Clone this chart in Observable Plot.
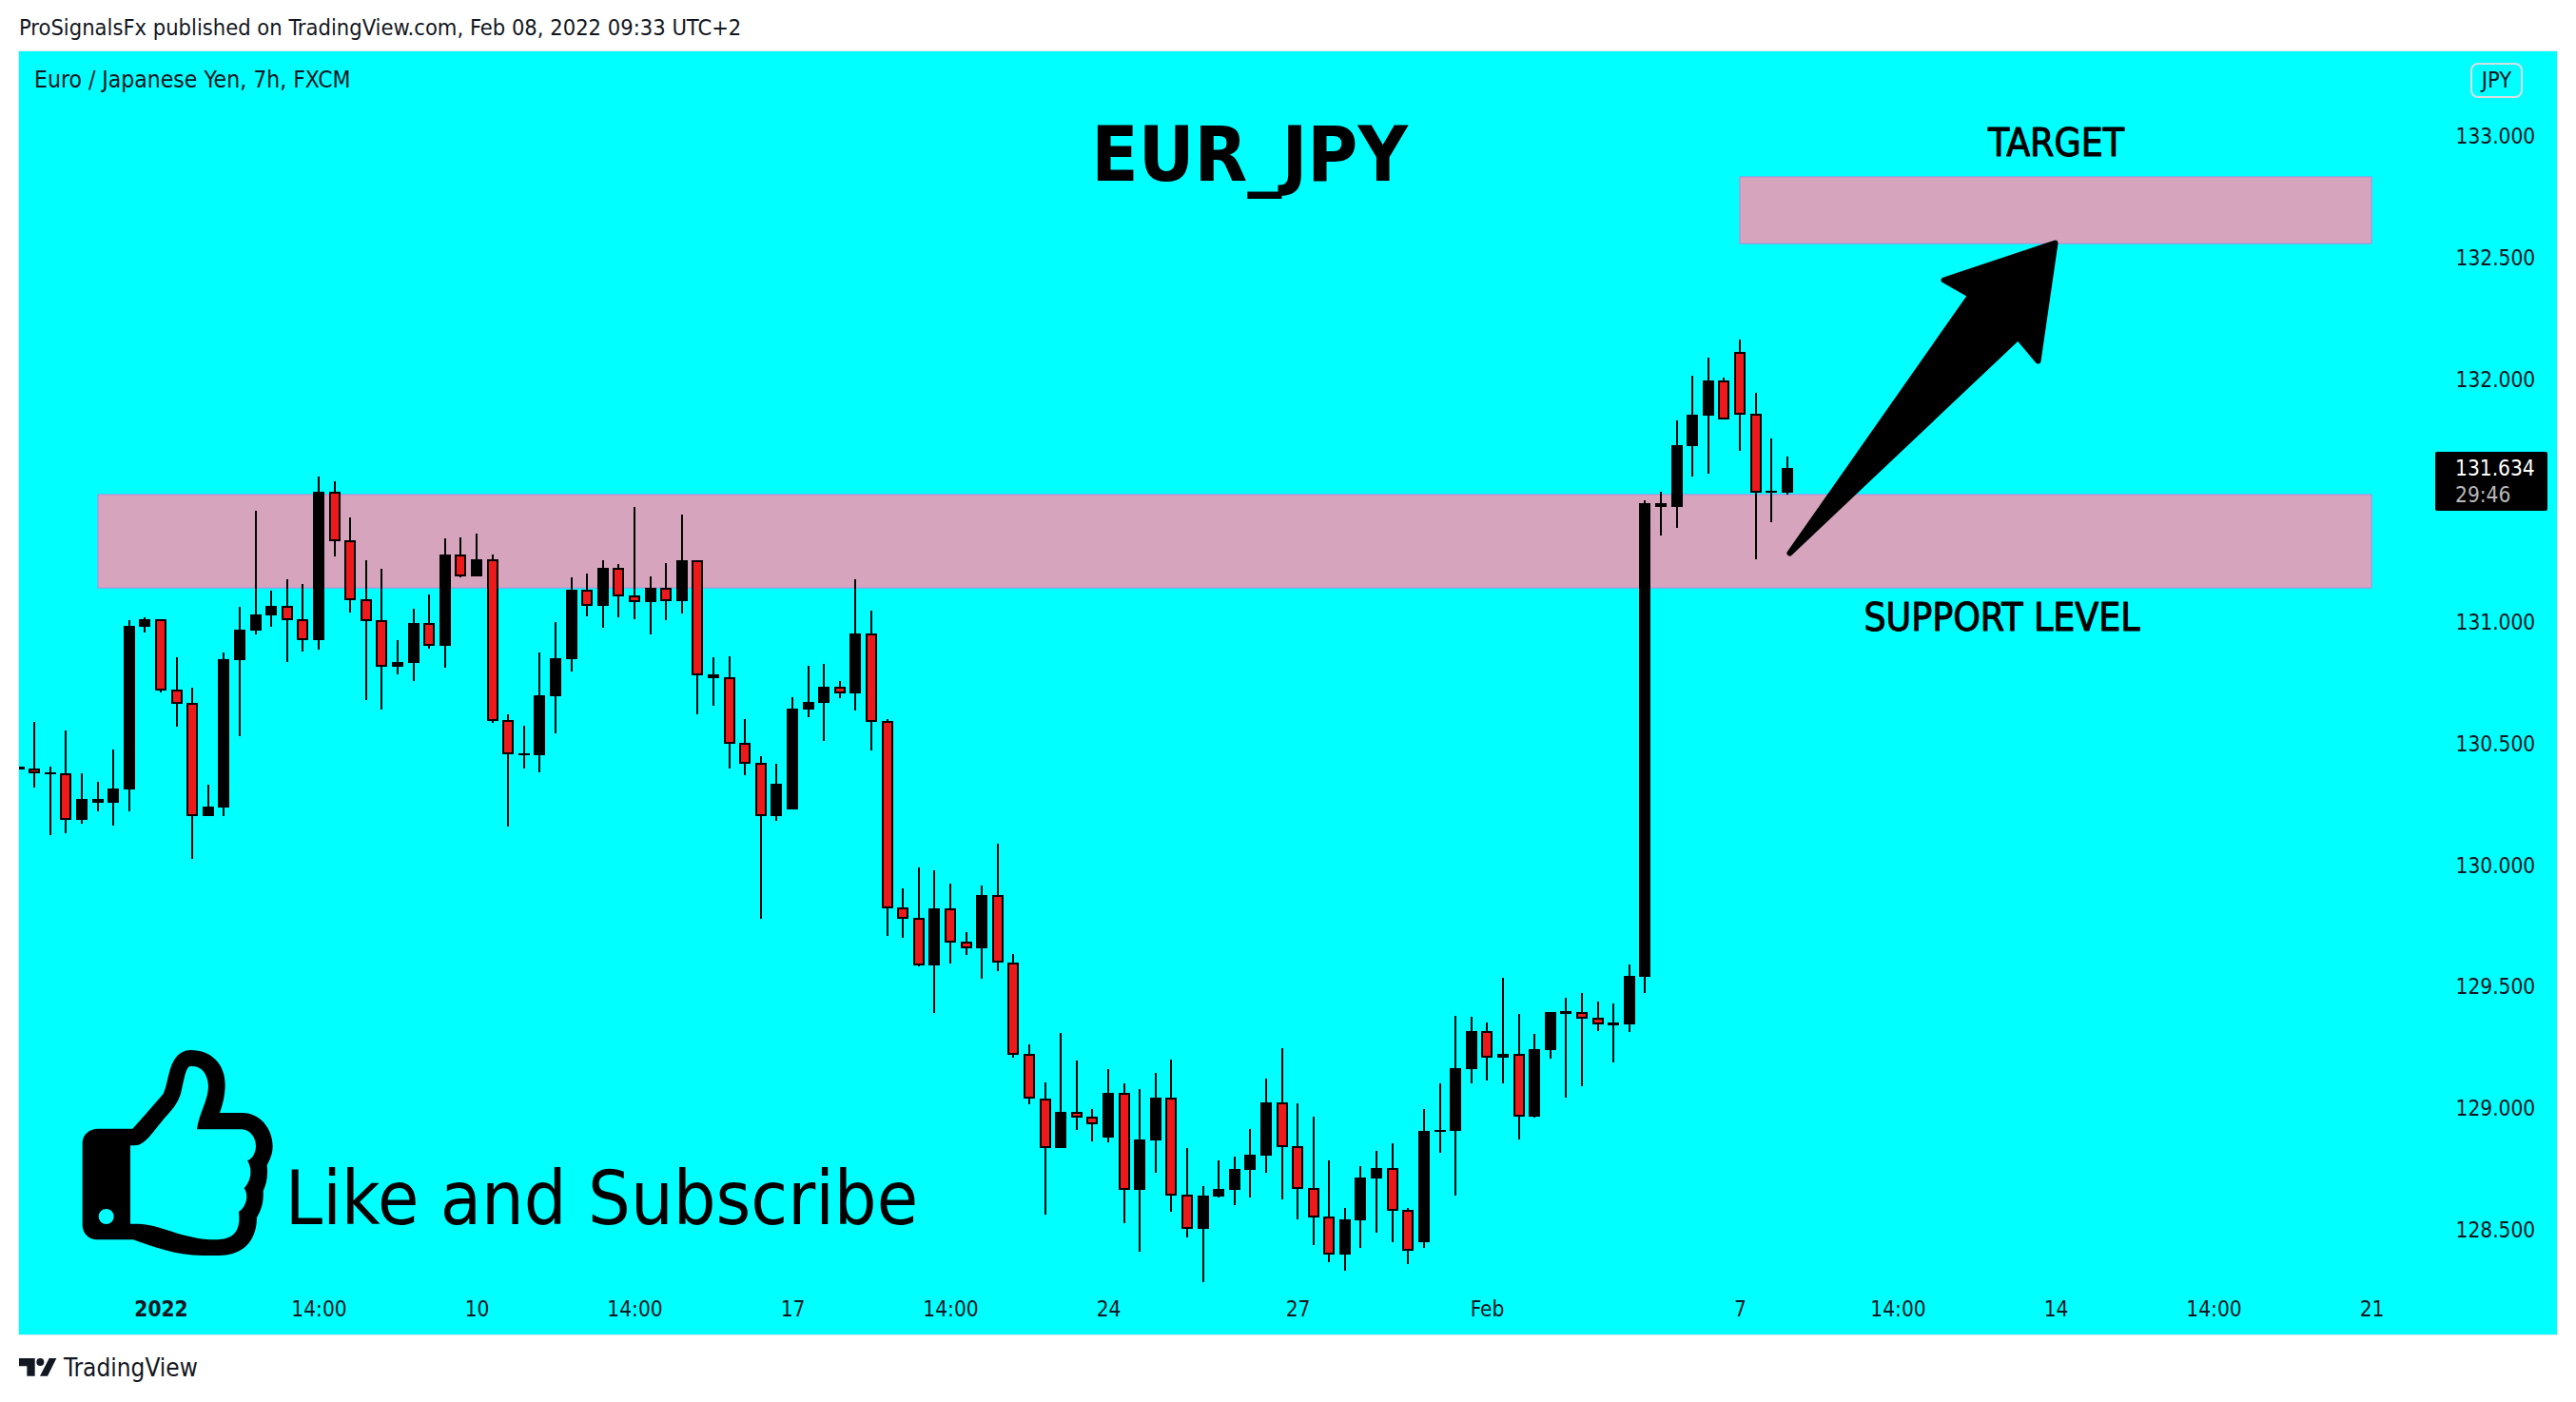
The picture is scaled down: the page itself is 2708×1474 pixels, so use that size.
<!DOCTYPE html>
<html>
<head>
<meta charset="utf-8">
<script src="https://cdn.jsdelivr.net/npm/d3@7"></script>
<script src="https://cdn.jsdelivr.net/npm/@observablehq/plot@0.6"></script>
<style>
  html, body { margin: 0; padding: 0; background: #fff; }
  #page { position: relative; width: 2708px; height: 1474px; overflow: hidden; color: #131722; font-family: "DejaVu Sans Condensed", "DejaVu Sans", sans-serif; }
  .abs { position: absolute; white-space: pre; line-height: 1; }
  #chart { position: absolute; left: 20px; top: 54px; width: 2668px; height: 1349px; outline: 1px solid #dfe9ee; }
  #badge { position: absolute; left: 2597px; top: 66px; width: 51px; height: 33px; border: 2px solid #d9dde3; border-radius: 8px; text-align: center; font-size: 23.5px; line-height: 33px; }
  #tag { position: absolute; left: 2560px; top: 475px; width: 118px; height: 62px; background: #000; border-radius: 2px; }
</style>
</head>
<body>
<div id="page">
  <div class="abs" id="pub" style="left:20px; top:18px; font-size:23.5px;">ProSignalsFx published on TradingView.com, Feb 08, 2022 09:33 UTC+2</div>
  <div id="chart"></div>
  <div class="abs" id="legend" style="left:36px; top:72px; font-size:24.5px;">Euro / Japanese Yen, 7h, FXCM</div>
  <div id="badge">JPY</div>
  <div id="tag"></div>
  <div class="abs" style="left:2581px; top:481px; font-size:22.5px; color:#fff;">131.634</div>
  <div class="abs" style="left:2581px; top:509px; font-size:22.5px; color:#b8b8b8;">29:46</div>
  <svg class="abs" style="left:70px; top:1090px;" width="240" height="240" viewBox="0 0 720 720">
    <path fill="#000" fill-rule="evenodd" d="M100 290 L208 290 C240 255 270 220 305 180 C325 140 320 45 390 42 C460 42 500 90 500 150 C500 190 490 220 483 240 L555 240 C610 240 650 290 650 345 C650 370 640 390 632 405 C636 440 630 465 620 487 C622 520 615 545 600 570 C600 640 560 690 480 690 L430 690 C340 690 270 660 210 640 L95 640 C70 640 50 620 50 595 L50 335 C50 310 70 290 100 290 Z M201 343 L215 343 C245 343 265 310 300 268 C320 240 345 225 360 180 C370 140 375 95 390 93 C425 90 445 115 447 155 C447 200 418 240 411 292 L550 292 C580 292 597 320 597 345 C597 365 585 388 570 390 C585 415 585 450 560 478 C575 500 568 535 543 552 C550 610 530 640 470 640 C370 640 290 590 225 590 L201 590 Z M149 567 A24 24 0 1 0 101 567 A24 24 0 1 0 149 567 Z"/>
  </svg>
  <svg class="abs" style="left:20px; top:1428px;" width="40" height="20" viewBox="30 40 120 60">
    <path fill="#131722" d="M30 40 H80 V96 H55 V65 H30 Z M125 40 H148 L120 96 H96 Z"/><circle cx="97" cy="52" r="12" fill="#131722"/>
  </svg>
  <div class="abs" style="left:67px; top:1425px; font-size:26px;">TradingView</div>
</div>
<script>
const opens = [130.394,130.396,130.373,130.377,130.187,130.258,130.258,130.313,130.981,131.011,130.721,130.666,130.203,130.238,130.845,130.965,131.028,131.066,131.011,130.926,131.536,131.336,131.093,131.007,130.816,130.832,130.995,130.903,131.277,131.188,131.258,130.596,130.454,130.454,130.696,130.849,131.132,131.068,131.222,131.109,131.084,131.140,131.088,131.254,130.771,130.772,130.502,130.420,130.203,130.230,130.642,130.669,130.733,130.708,130.952,130.592,129.825,129.783,129.587,129.822,129.684,129.659,129.875,129.597,129.222,129.038,128.837,128.983,128.963,128.880,129.061,128.664,128.868,129.041,128.642,128.504,128.637,128.664,128.746,128.805,129.022,128.842,128.669,128.552,128.398,128.539,128.711,128.752,128.579,128.449,128.902,128.906,129.160,129.316,129.207,129.222,128.966,129.239,129.387,129.394,129.370,129.342,129.344,129.540,131.474,131.474,131.725,131.850,131.994,132.111,131.857,131.532,131.533];
const highs = [130.405,130.588,130.405,130.553,130.377,130.343,130.476,131.007,131.020,131.011,130.856,130.730,130.331,130.875,131.063,131.459,131.130,131.177,131.157,131.600,131.580,131.431,131.255,131.220,130.926,131.055,131.114,131.345,131.349,131.365,131.278,130.621,130.574,130.875,131.000,131.184,131.200,131.255,131.239,131.474,131.188,131.243,131.443,131.254,130.856,130.860,130.601,130.448,130.417,130.691,130.820,130.828,130.758,131.177,131.047,130.601,129.904,129.990,129.979,129.924,129.724,129.916,130.088,129.634,129.262,129.105,129.309,129.195,128.996,129.160,129.101,129.078,129.145,129.199,128.835,128.679,128.784,128.800,128.913,129.121,129.246,129.019,128.964,128.784,128.589,128.761,128.824,128.855,128.589,128.996,129.102,129.380,129.376,129.352,129.536,129.387,129.305,129.395,129.454,129.473,129.438,129.430,129.591,131.502,131.537,131.830,132.015,132.089,132.007,132.163,131.944,131.756,131.682];
const lows = [130.394,130.320,130.125,130.133,130.172,130.223,130.164,130.223,130.959,130.712,130.571,130.027,130.203,130.203,130.532,130.951,130.982,130.837,130.880,130.888,131.272,131.041,130.681,130.642,130.786,130.759,130.892,130.814,131.186,131.188,130.587,130.160,130.399,130.383,130.544,130.798,131.025,130.978,131.021,131.014,130.951,131.010,131.037,130.622,130.657,130.399,130.371,129.780,130.183,130.230,130.610,130.512,130.689,130.638,130.473,129.710,129.702,129.583,129.391,129.595,129.631,129.533,129.565,129.209,129.017,128.562,128.837,128.911,128.864,128.860,128.527,128.410,128.735,128.574,128.468,128.284,128.633,128.602,128.633,128.735,128.625,128.543,128.437,128.367,128.331,128.425,128.488,128.449,128.359,128.425,128.816,128.640,129.102,129.113,129.102,128.871,128.961,129.203,129.043,129.090,129.317,129.188,129.313,129.473,131.358,131.389,131.601,131.613,131.836,131.707,131.260,131.413,131.526];
const closes = [130.405,130.377,130.381,130.187,130.272,130.272,130.315,130.985,131.012,130.720,130.665,130.203,130.241,130.848,130.969,131.032,131.067,131.010,130.927,131.537,131.335,131.092,131.006,130.818,130.836,130.997,130.903,131.278,131.190,131.259,130.595,130.457,130.460,130.699,130.852,131.134,131.068,131.224,131.107,131.084,131.141,131.088,131.255,130.783,130.785,130.501,130.418,130.203,130.335,130.644,130.672,130.734,130.708,130.954,130.591,129.823,129.780,129.587,129.822,129.682,129.659,129.877,129.597,129.220,129.038,128.837,128.984,128.962,128.934,129.062,128.664,128.870,129.043,128.641,128.504,128.639,128.667,128.749,128.808,129.023,128.840,128.668,128.551,128.398,128.542,128.714,128.753,128.578,128.414,128.906,128.910,129.164,129.317,129.209,129.223,128.966,129.242,129.395,129.399,129.369,129.346,129.351,129.544,131.490,131.490,131.729,131.854,131.995,131.836,131.855,131.534,131.539,131.635];

const yTicks = [128.5,129,129.5,130,130.5,131,132,132.5,133];
const xTickIndex = [19,29,39,49,59,69,81,93,109,119,129,139,149];
const xTickLabels = ["14:00","10","14:00","17","14:00","24","27","Feb","7","14:00","14","14:00","21"];
const yearTickIndex = [9];
const yearTickLabels = ["2022"];

const zoneStart = [5,109];
const zoneEnd = [149,149];
const zoneTop = [131.525,132.834];
const zoneBottom = [131.143,132.559];

const arrowIndex = [112.11,123.58,121.90,128.94,127.86,126.60,112.11];
const arrowPrice = [131.288,132.347,132.410,132.563,132.077,132.175,131.288];

const noteText = ["EUR_JPY","TARGET","SUPPORT LEVEL","Like and Subscribe"];
const noteIndex = [77.9,129,125.6,36.9];
const notePrice = [132.92,132.968,131.018,128.625];
const noteSize = [80.5,40.5,40.5,78.5];
const noteWeight = ["bold","normal","normal","normal"];
const noteStroke = [0,1,1,0];

const candles = opens.map((open, i) => ({i, open, high: highs[i], low: lows[i], close: closes[i]}));
const reds = candles.filter(d => d.close < d.open);
const zones = zoneStart.map((s, k) => ({s, e: zoneEnd[k], t: zoneTop[k], b: zoneBottom[k]}));
const arrow = arrowIndex.map((x, k) => ({x, y: arrowPrice[k]}));
const notes = noteText.map((text, k) => ({text, x: noteIndex[k], y: notePrice[k], size: noteSize[k], weight: noteWeight[k], sw: noteStroke[k]}));

const chart = Plot.plot({
  width: 2668,
  height: 1349,
  marginLeft: 0,
  marginRight: 115,
  marginTop: 0,
  marginBottom: 45,
  style: {background: "#00ffff", fontFamily: "'DejaVu Sans Condensed', 'DejaVu Sans', sans-serif", color: "#131722"},
  x: {type: "linear", domain: [0, 149], range: [-0.5, -0.5 + 16.6 * 149], round: true, label: null},
  y: {type: "linear", domain: [128.5, 133], range: [1238.6, 89.3], round: true, label: null},
  marks: [
    Plot.rect(zones, {x1: "s", x2: "e", y1: "b", y2: "t", fill: "#d6a5bd", stroke: "#c680d4", strokeWidth: 1}),
    Plot.ruleX(candles, {x: "i", y1: "low", y2: "high", stroke: "#000", strokeWidth: 2, dx: -0.5}),
    Plot.rect(candles, {x1: "i", x2: "i", y1: d => Math.min(d.open, d.close), y2: d => Math.max(d.open, d.close), fill: "#000", insetLeft: -6, insetRight: -6}),
    Plot.rect(reds, {x1: "i", x2: "i", y1: "close", y2: "open", fill: "#ec1a1a", insetLeft: -4, insetRight: -4, insetTop: 2, insetBottom: 2}),
    Plot.line(arrow, {x: "x", y: "y", fill: "#000", stroke: "#000", strokeWidth: 6, strokeLinejoin: "round"}),
    ...notes.map(n => Plot.text([n], {x: "x", y: "y", text: "text", fontSize: n.size, fontWeight: n.weight, fill: "#000", stroke: n.sw ? "#000" : "none", strokeWidth: n.sw})),
    Plot.axisY(yTicks, {anchor: "right", tickSize: 0, tickPadding: 8, fontSize: 22.5, tickFormat: d3.format(".3f"), label: null, fill: "#131722"}),
    Plot.axisX(xTickIndex, {anchor: "bottom", tickSize: 0, tickPadding: 10, fontSize: 22.5, tickFormat: i => xTickLabels[xTickIndex.indexOf(i)], label: null, fill: "#131722"}),
    Plot.axisX(yearTickIndex, {anchor: "bottom", tickSize: 0, tickPadding: 10, fontSize: 22.5, fontWeight: "bold", tickFormat: i => yearTickLabels[yearTickIndex.indexOf(i)], label: null, fill: "#131722"})
  ]
});
document.getElementById("chart").appendChild(chart);
</script>
</body>
</html>
